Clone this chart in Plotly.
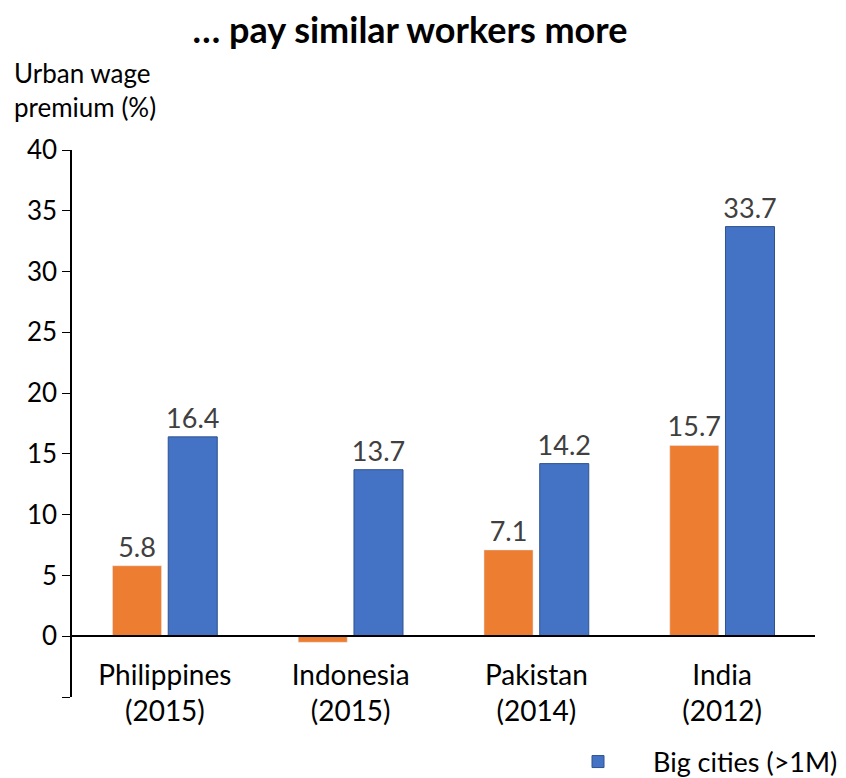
import plotly.graph_objects as go

# Data
categories = ["Philippines<br>(2015)", "Indonesia<br>(2015)", "Pakistan<br>(2014)", "India<br>(2012)"]
small_cities = [5.8, -0.5, 7.1, 15.7]
big_cities = [16.4, 13.7, 14.2, 33.7]
small_labels = ["5.8", "", "7.1", "15.7"]
big_labels = ["16.4", "13.7", "14.2", "33.7"]
y_ticks = [-5, 0, 5, 10, 15, 20, 25, 30, 35, 40]
y_ticktext = [""] + [str(v) for v in y_ticks[1:]]

font_family = "Lato, 'Open Sans', sans-serif"
label_color = "#404040"

fig = go.Figure()
fig.add_trace(go.Bar(
    x=categories, y=small_cities,
    name="Small cities",
    marker=dict(color="#ED7D31"),
    text=small_labels, textposition="outside",
    textfont=dict(size=27, color=label_color),
    constraintext="none", cliponaxis=False,
    showlegend=False
))
fig.add_trace(go.Bar(
    x=categories, y=big_cities,
    name="Big cities (>1M)",
    marker=dict(color="#4472C4", line=dict(color="#2F528F", width=1)),
    text=big_labels, textposition="outside",
    textfont=dict(size=27, color=label_color),
    constraintext="none", cliponaxis=False
))

# page body adds an 8px offset, so the figure is laid out 8px smaller
fig.update_layout(
    width=838, height=770,
    plot_bgcolor="white", paper_bgcolor="white",
    font=dict(family=font_family, size=24, color="black"),
    barmode="group", bargap=0.4, bargroupgap=0.12,
    margin=dict(l=64, r=31, t=142, b=81, autoexpand=False),
    title=dict(
        text="<b>… pay similar workers more</b>",
        x=402 / 838, xanchor="center", y=1 - 22 / 770, yanchor="middle",
        font=dict(size=36, color="black")
    ),
    xaxis=dict(
        anchor="free", position=5 / 45,
        showline=True, linecolor="black", linewidth=2,
        ticks="", showgrid=False, ticklabelstandoff=14,
        tickfont=dict(size=28, color="black")
    ),
    yaxis=dict(
        range=[-5, 40], tickvals=y_ticks, ticktext=y_ticktext,
        showline=True, linecolor="black", linewidth=1.5,
        ticks="outside", ticklen=8, tickcolor="black",
        showgrid=False, zeroline=False,
        tickfont=dict(size=26, color="black")
    ),
    legend=dict(
        x=(543 - 72) / 743, xanchor="left",
        y=(697 - 762) / 547, yanchor="middle",
        itemwidth=100,
        font=dict(size=27, color="black"),
        bgcolor="rgba(0,0,0,0)"
    ),
    annotations=[dict(
        text="Urban wage<br>premium (%)", xref="paper", yref="paper",
        x=-60 / 743, y=1 + 25 / 547, xanchor="left", yanchor="bottom",
        align="left", showarrow=False,
        font=dict(size=26, color="black")
    )]
)

fig.write_html("out.html")
